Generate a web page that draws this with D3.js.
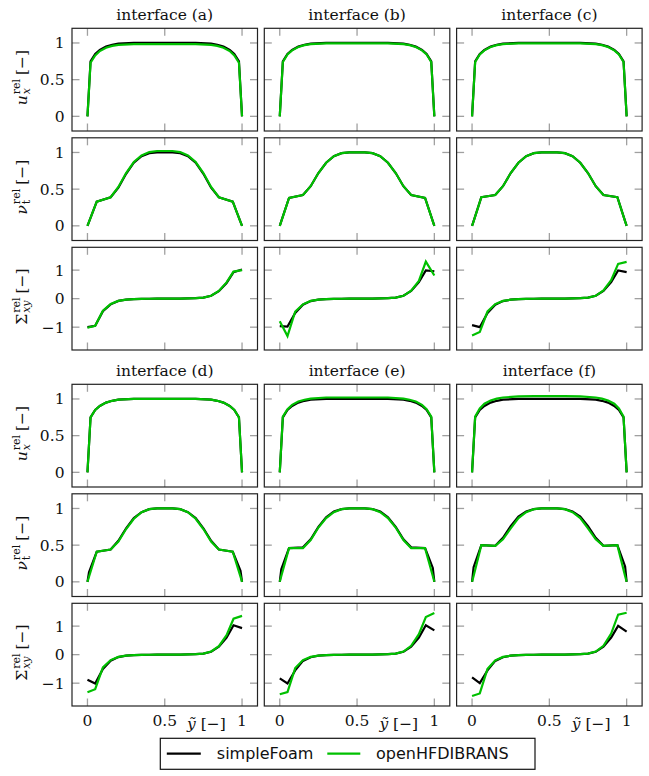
<!DOCTYPE html>
<html>
<head>
<meta charset="utf-8">
<script src="https://cdn.jsdelivr.net/npm/d3@7"></script>
<style>
  body { margin: 0; background: #fff; }
  text { font-family: "DejaVu Serif", serif; fill: #111; }
</style>
</head>
<body>
<svg id="chart" width="649" height="776"></svg>
<script>
// ---- data ----
const interfaces = ['interface (a)', 'interface (b)', 'interface (c)',
                    'interface (d)', 'interface (e)', 'interface (f)'];
const seriesNames = ['simpleFoam', 'openHFDIBRANS'];

const xTicks = [0, 0.5, 1];
const xTickLabels = ['0', '0.5', '1'];
const unitTicks = [0, 0.5, 1];
const unitTickLabels = ['0', '0.5', '1'];
const sigmaTicks = [-1, 0, 1];
const sigmaTickLabels = ['\u22121', '0', '1'];

// wall-normal positions of the samples
const yU = [0, 0.02, 0.05, 0.08, 0.12, 0.16, 0.2, 0.3, 0.4, 0.5, 0.6, 0.7, 0.8, 0.84, 0.88, 0.92, 0.95, 0.98, 1];
const yNu = [0, 0.01, 0.06, 0.15, 0.2, 0.25, 0.3, 0.35, 0.4, 0.45, 0.5, 0.55, 0.6, 0.65, 0.7, 0.75, 0.8, 0.85, 0.94, 0.99, 1];
const ySig = [0, 0.05, 0.1, 0.15, 0.2, 0.25, 0.3, 0.35, 0.4, 0.45, 0.5, 0.55, 0.6, 0.65, 0.7, 0.75, 0.8, 0.85, 0.9, 0.945, 1];

// u_x^rel, one row per interface (a)..(f)
const uSimple = [
  [0, 0.75, 0.85, 0.905, 0.95, 0.975, 0.99, 1, 1, 1, 1, 1, 0.99, 0.975, 0.95, 0.905, 0.85, 0.75, 0],
  [0, 0.75, 0.85, 0.905, 0.95, 0.975, 0.99, 1, 1, 1, 1, 1, 0.99, 0.975, 0.95, 0.905, 0.85, 0.75, 0],
  [0, 0.75, 0.85, 0.905, 0.95, 0.975, 0.99, 1, 1, 1, 1, 1, 0.99, 0.975, 0.95, 0.905, 0.85, 0.75, 0],
  [0, 0.75, 0.85, 0.905, 0.95, 0.975, 0.99, 1, 1, 1, 1, 1, 0.99, 0.975, 0.95, 0.905, 0.85, 0.75, 0],
  [0, 0.75, 0.85, 0.905, 0.95, 0.975, 0.99, 1, 1, 1, 1, 1, 0.99, 0.975, 0.95, 0.905, 0.85, 0.75, 0],
  [0, 0.75, 0.85, 0.905, 0.95, 0.975, 0.99, 1, 1, 1, 1, 1, 0.99, 0.975, 0.95, 0.905, 0.85, 0.75, 0]
];
const uHfdib = [
  [0, 0.73, 0.83, 0.89, 0.935, 0.96, 0.975, 0.985, 0.985, 0.985, 0.985, 0.985, 0.975, 0.96, 0.935, 0.89, 0.83, 0.73, 0],
  [0, 0.74, 0.845, 0.9, 0.945, 0.97, 0.985, 0.995, 0.995, 0.995, 0.995, 0.995, 0.985, 0.97, 0.945, 0.9, 0.845, 0.74, 0],
  [0, 0.74, 0.845, 0.9, 0.945, 0.97, 0.985, 0.995, 0.995, 0.995, 0.995, 0.995, 0.985, 0.97, 0.945, 0.9, 0.845, 0.74, 0],
  [0, 0.75, 0.85, 0.905, 0.95, 0.975, 0.99, 1, 1, 1, 1, 1, 0.99, 0.975, 0.95, 0.905, 0.85, 0.75, 0],
  [0, 0.76, 0.86, 0.92, 0.965, 0.99, 1.005, 1.02, 1.02, 1.02, 1.02, 1.02, 1.005, 0.99, 0.965, 0.92, 0.86, 0.76, 0],
  [0, 0.76, 0.87, 0.935, 0.98, 1.005, 1.02, 1.035, 1.04, 1.04, 1.04, 1.035, 1.02, 1.005, 0.98, 0.935, 0.87, 0.76, 0]
];

// nu_t^rel
const nuSimple = [
  [0, 0.055, 0.33, 0.39, 0.52, 0.71, 0.86, 0.95, 0.99, 1, 1, 1, 0.99, 0.95, 0.86, 0.71, 0.52, 0.39, 0.33, 0.055, 0],
  [0, 0.065, 0.38, 0.42, 0.54, 0.72, 0.86, 0.95, 0.99, 1, 1, 1, 0.99, 0.95, 0.86, 0.72, 0.54, 0.42, 0.38, 0.065, 0],
  [0, 0.065, 0.39, 0.42, 0.54, 0.72, 0.86, 0.95, 0.99, 1, 1, 1, 0.99, 0.95, 0.86, 0.72, 0.54, 0.42, 0.39, 0.065, 0],
  [0, 0.13, 0.41, 0.44, 0.56, 0.73, 0.87, 0.95, 0.99, 1, 1, 1, 0.99, 0.95, 0.87, 0.73, 0.56, 0.44, 0.41, 0.15, 0],
  [0, 0.17, 0.46, 0.47, 0.58, 0.75, 0.88, 0.96, 0.99, 1, 1, 1, 0.99, 0.96, 0.88, 0.75, 0.58, 0.47, 0.46, 0.19, 0],
  [0, 0.2, 0.5, 0.49, 0.6, 0.76, 0.89, 0.96, 0.99, 1, 1, 1, 0.99, 0.96, 0.89, 0.76, 0.6, 0.49, 0.5, 0.21, 0]
];
const nuHfdib = [
  [0, 0.055, 0.33, 0.39, 0.53, 0.72, 0.87, 0.96, 1.005, 1.02, 1.02, 1.02, 1.005, 0.96, 0.87, 0.72, 0.53, 0.39, 0.33, 0.055, 0],
  [0, 0.06, 0.38, 0.42, 0.54, 0.72, 0.86, 0.95, 0.99, 1, 1, 1, 0.99, 0.95, 0.86, 0.72, 0.54, 0.42, 0.38, 0.06, 0],
  [0, 0.06, 0.39, 0.42, 0.54, 0.72, 0.86, 0.95, 0.99, 1, 1, 1, 0.99, 0.95, 0.86, 0.72, 0.54, 0.42, 0.39, 0.06, 0],
  [0, 0.07, 0.41, 0.44, 0.55, 0.72, 0.86, 0.95, 0.99, 1, 1, 1, 0.99, 0.95, 0.86, 0.72, 0.55, 0.44, 0.41, 0.07, 0],
  [0, 0.08, 0.46, 0.46, 0.57, 0.74, 0.87, 0.95, 0.99, 1, 1, 1, 0.99, 0.95, 0.87, 0.74, 0.57, 0.46, 0.46, 0.08, 0],
  [0, 0.08, 0.5, 0.49, 0.58, 0.73, 0.87, 0.95, 0.99, 1, 1, 1, 0.99, 0.95, 0.87, 0.73, 0.58, 0.49, 0.5, 0.08, 0]
];

// Sigma_xy^rel
const sigSimple = [
  [-1.0, -0.95, -0.44, -0.2, -0.08, -0.035, -0.015, -0.007, -0.003, -0.001, 0, 0.001, 0.003, 0.007, 0.015, 0.035, 0.1, 0.26, 0.55, 0.93, 1.02],
  [-0.96, -0.98, -0.5, -0.21, -0.085, -0.035, -0.015, -0.007, -0.003, -0.001, 0, 0.001, 0.003, 0.007, 0.015, 0.035, 0.1, 0.27, 0.58, 0.99, 0.96],
  [-0.93, -1.0, -0.5, -0.21, -0.085, -0.035, -0.015, -0.007, -0.003, -0.001, 0, 0.001, 0.003, 0.007, 0.015, 0.035, 0.1, 0.27, 0.58, 0.99, 0.93],
  [-0.88, -1.01, -0.5, -0.21, -0.085, -0.035, -0.015, -0.007, -0.003, -0.001, 0, 0.001, 0.003, 0.007, 0.015, 0.035, 0.1, 0.28, 0.6, 1.03, 0.93],
  [-0.83, -1.01, -0.55, -0.22, -0.09, -0.035, -0.015, -0.007, -0.003, -0.001, 0, 0.001, 0.003, 0.007, 0.015, 0.035, 0.1, 0.28, 0.6, 1.03, 0.85],
  [-0.8, -1.0, -0.55, -0.22, -0.09, -0.035, -0.015, -0.007, -0.003, -0.001, 0, 0.001, 0.003, 0.007, 0.015, 0.035, 0.1, 0.28, 0.6, 1.01, 0.81]
];
const sigHfdib = [
  [-1.02, -0.95, -0.42, -0.19, -0.08, -0.035, -0.015, -0.007, -0.003, -0.001, 0, 0.001, 0.003, 0.007, 0.015, 0.035, 0.1, 0.27, 0.57, 0.95, 1.0],
  [-0.79, -1.31, -0.45, -0.2, -0.08, -0.035, -0.015, -0.007, -0.003, -0.001, 0, 0.001, 0.003, 0.007, 0.015, 0.035, 0.1, 0.28, 0.62, 1.3, 0.81],
  [-1.29, -1.17, -0.45, -0.19, -0.08, -0.035, -0.015, -0.007, -0.003, -0.001, 0, 0.001, 0.003, 0.007, 0.015, 0.035, 0.1, 0.29, 0.65, 1.22, 1.29],
  [-1.32, -1.21, -0.45, -0.19, -0.08, -0.035, -0.015, -0.007, -0.003, -0.001, 0, 0.001, 0.003, 0.007, 0.015, 0.035, 0.11, 0.3, 0.68, 1.26, 1.36],
  [-1.39, -1.31, -0.47, -0.19, -0.08, -0.035, -0.015, -0.007, -0.003, -0.001, 0, 0.001, 0.003, 0.007, 0.015, 0.035, 0.11, 0.31, 0.72, 1.32, 1.46],
  [-1.45, -1.36, -0.5, -0.2, -0.08, -0.035, -0.015, -0.007, -0.003, -0.001, 0, 0.001, 0.003, 0.007, 0.015, 0.035, 0.11, 0.31, 0.74, 1.4, 1.47]
];

// ---- layout ----
const colors = ['#000000', '#00c000'];
const fontSize = 15.5, scriptSize = 11;
const left0 = 72, colStep = 192.3, panelW = 185.5, panelH = 102.7;
const top0 = 28.3, rowStep = 109.5, groupStep = 356;
const tickLen = 7.5;

const svg = d3.select('#chart');

const x = d3.scaleLinear().domain([-0.1, 1.1]).range([0, panelW]);

const quantities = [
  { xs: yU, black: uSimple, green: uHfdib, domain: [-0.2, 1.2], ticks: unitTicks, tickLabels: unitTickLabels,
    base: 'u', baseItalic: true, sub: 'x', subItalic: true },
  { xs: yNu, black: nuSimple, green: nuHfdib, domain: [-0.2, 1.2], ticks: unitTicks, tickLabels: unitTickLabels,
    base: '\u03bd', baseItalic: true, sub: 't', subItalic: false },
  { xs: ySig, black: sigSimple, green: sigHfdib, domain: [-1.8, 1.8], ticks: sigmaTicks, tickLabels: sigmaTickLabels,
    base: '\u03a3', baseItalic: false, sub: 'xy', subItalic: true }
];

function stext(sel, tx, ty, str, anchor) {
  return sel.append('text')
    .attr('x', tx).attr('y', ty)
    .attr('text-anchor', anchor)
    .style('font-size', fontSize + 'px')
    .text(str);
}

// rotated y label like  u_x^rel [-]
function yLabel(sel, cx, cy, q) {
  const outer = sel.append('g').attr('transform', `translate(${cx},${cy}) rotate(-90)`);
  const g = outer.append('g');
  let cur = 0;
  const b = g.append('text').attr('x', cur).style('font-size', fontSize + 'px')
    .style('font-style', q.baseItalic ? 'italic' : 'normal').text(q.base);
  cur += b.node().getComputedTextLength() + 1;
  const sup = g.append('text').attr('x', cur).attr('y', -7).style('font-size', scriptSize + 'px').text('rel');
  const sub = g.append('text').attr('x', cur).attr('y', 3.5).style('font-size', scriptSize + 'px')
    .style('font-style', q.subItalic ? 'italic' : 'normal').text(q.sub);
  cur += Math.max(sup.node().getComputedTextLength(), sub.node().getComputedTextLength()) + 4;
  const br = g.append('text').attr('x', cur).style('font-size', fontSize + 'px').text('[\u2212]');
  cur += br.node().getComputedTextLength();
  g.attr('transform', `translate(${-cur / 2},0)`);
}

interfaces.forEach((name, i) => {
  const group = Math.floor(i / 3), col = i % 3;
  const px = left0 + col * colStep;

  quantities.forEach((q, r) => {
    const py = top0 + group * groupStep + r * rowStep;
    const y = d3.scaleLinear().domain(q.domain).range([panelH, 0]);
    const g = svg.append('g').attr('transform', `translate(${px},${py})`);

    const clipId = `clip-${i}-${r}`;
    g.append('clipPath').attr('id', clipId)
      .append('rect').attr('width', panelW).attr('height', panelH);

    // ticks, drawn inside the frame on all four sides
    const tk = g.append('g').attr('stroke', '#a0a0a0').attr('stroke-width', 1.3);
    xTicks.forEach(t => {
      tk.append('line').attr('x1', x(t)).attr('x2', x(t)).attr('y1', panelH).attr('y2', panelH - tickLen);
      tk.append('line').attr('x1', x(t)).attr('x2', x(t)).attr('y1', 0).attr('y2', tickLen);
    });
    q.ticks.forEach(t => {
      tk.append('line').attr('x1', 0).attr('x2', tickLen).attr('y1', y(t)).attr('y2', y(t));
      tk.append('line').attr('x1', panelW).attr('x2', panelW - tickLen).attr('y1', y(t)).attr('y2', y(t));
    });

    // data lines: simpleFoam under openHFDIBRANS
    const line = d3.line().x((d, k) => x(q.xs[k])).y(d => y(d));
    const lines = g.append('g').attr('clip-path', `url(#${clipId})`);
    [q.black[i], q.green[i]].forEach((vals, s) => {
      lines.append('path').datum(vals)
        .attr('d', line)
        .attr('fill', 'none')
        .attr('stroke', colors[s])
        .attr('stroke-width', 2.2)
        .attr('stroke-linejoin', 'miter');
    });

    g.append('rect').attr('width', panelW).attr('height', panelH)
      .attr('fill', 'none').attr('stroke', '#222').attr('stroke-width', 1.2);

    if (col === 0) {
      q.ticks.forEach((t, k) => stext(g, -7.5, y(t) + 5.5, q.tickLabels[k], 'end'));
      yLabel(svg, 26.5, py + panelH / 2 - 2, q);
    }
    if (r === 0) {
      stext(g, panelW / 2, -8.5, name, 'middle');
    }
    if (r === 2 && group === 1) {
      xTicks.forEach((t, k) => stext(g, x(t), panelH + 20.5, xTickLabels[k], 'middle'));
      const tl = g.append('text')
        .attr('x', x(0.77)).attr('y', panelH + 23.5)
        .attr('text-anchor', 'middle')
        .style('font-size', fontSize + 'px');
      tl.append('tspan').style('font-style', 'italic').text('\u1ef9');
      tl.append('tspan').text(' [\u2212]');
    }
  });
});

// ---- legend ----
const lg = svg.append('g').attr('transform', 'translate(160.3,738.3)');
lg.append('rect').attr('width', 374.7).attr('height', 31)
  .attr('fill', '#fff').attr('stroke', '#111').attr('stroke-width', 1.2);
const legendX = [[6.5, 40.5, 56.5], [167, 200, 215.7]];
seriesNames.forEach((s, k) => {
  lg.append('line').attr('x1', legendX[k][0]).attr('x2', legendX[k][1])
    .attr('y1', 15.3).attr('y2', 15.3)
    .attr('stroke', colors[k]).attr('stroke-width', 2.2);
  lg.append('text')
    .attr('x', legendX[k][2]).attr('y', 20.8)
    .style('font-family', '"DejaVu Sans", sans-serif')
    .style('font-size', '16px')
    .text(s);
});
</script>
</body>
</html>
